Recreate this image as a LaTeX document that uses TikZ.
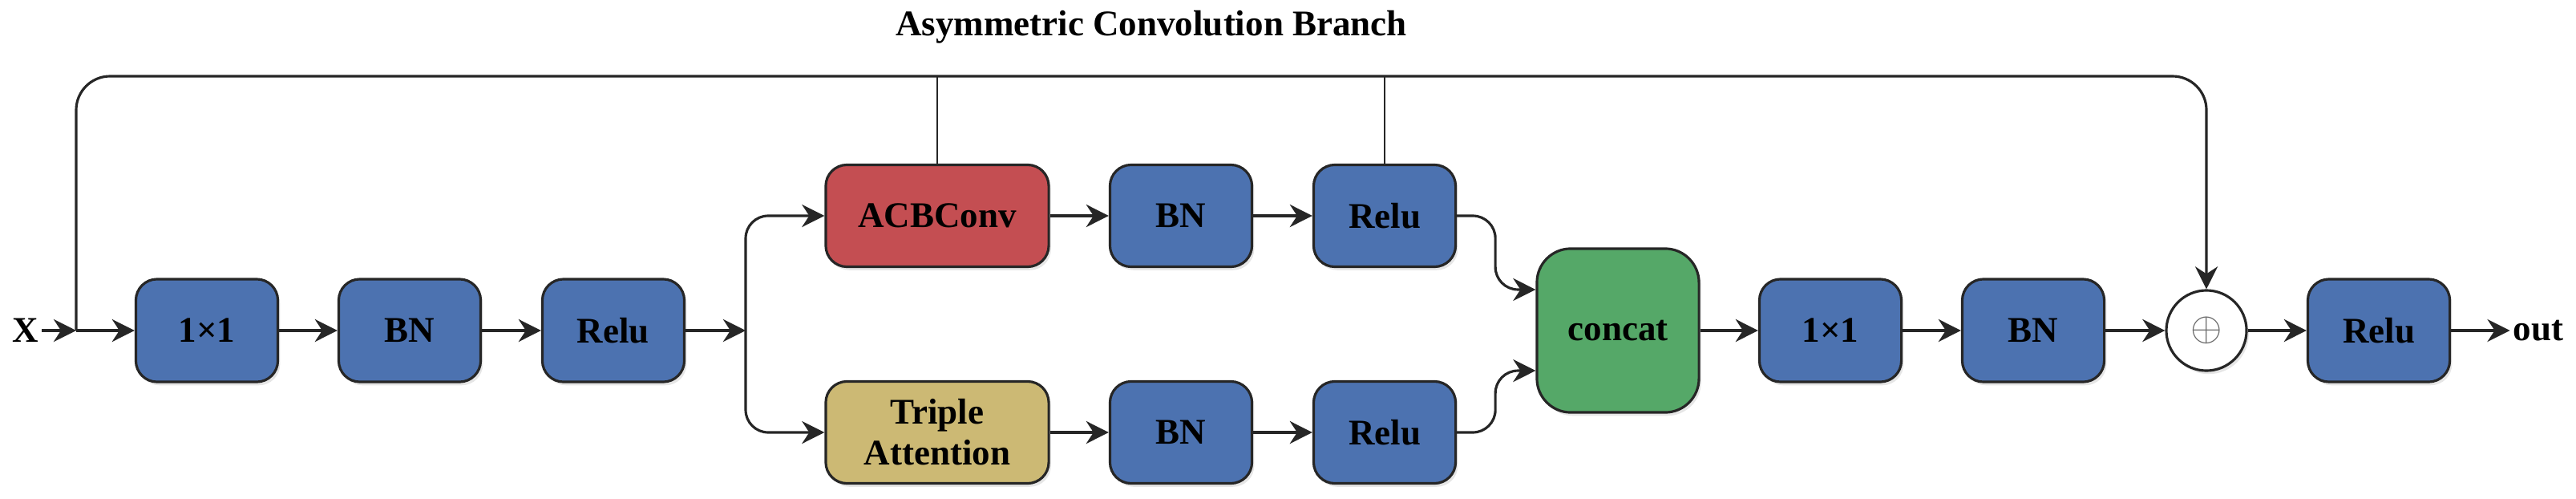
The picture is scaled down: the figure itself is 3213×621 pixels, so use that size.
\documentclass[tikz,border=0pt]{standalone}
\usepackage{fontspec}
\setmainfont{Liberation Serif}
\usepackage{xcolor}
\definecolor{acblue}{HTML}{4C72B0}
\definecolor{acred}{HTML}{C44E52}
\definecolor{actan}{HTML}{CCB974}
\definecolor{acgreen}{HTML}{55A868}
\definecolor{acline}{RGB}{38,38,38}
\usetikzlibrary{arrows.meta,positioning,shadows}

\begin{document}
\begin{tikzpicture}[x=0.01cm,y=-0.01cm,
  blk/.style={draw=acline,line width=0.9pt,rounded corners=7.5pt,
        minimum width=1.77cm,minimum height=1.28cm,align=center,inner sep=1pt,
        font=\fontsize{12.8}{14.5}\selectfont\bfseries,
        drop shadow={shadow xshift=0.8pt,shadow yshift=-1.2pt,opacity=0.2}},
  lbl/.style={font=\fontsize{12.8}{14.5}\selectfont\bfseries,inner sep=1pt},
  arr/.style={-{Stealth[length=8pt,width=8pt]},line width=0.9pt,acline,rounded corners=8pt},
  thinline/.style={line width=0.6pt,acline}]
  \useasboundingbox (0,0) rectangle (3213,621);

  % title and ends
  \node[lbl] (title) at (1436,34) {Asymmetric Convolution Branch};
  \node[lbl] (xin) at (32,412) {X};
  \node[lbl] (out) at (3166,412) {out};
  \coordinate (j) at (95,412);
  \coordinate (tl) at (95,95);
  \coordinate (tr) at (2752,95);
  \coordinate (s) at (930,412);

  % stem
  \node[blk,fill=acblue] (c1) at (258,412) {1×1};
  \node[blk,fill=acblue] (bn1) at (511,412) {BN};
  \node[blk,fill=acblue] (relu1) at (765,412) {Relu};

  % two branches
  \node[blk,fill=acred,minimum width=2.78cm,minimum height=1.27cm] (acb) at (1169,269) {ACBConv};
  \node[blk,fill=acblue,minimum height=1.27cm] (bn2) at (1473,269) {BN};
  \node[blk,fill=acblue,minimum height=1.27cm] (relu2) at (1727,269) {Relu};
  \node[blk,fill=actan,minimum width=2.78cm,minimum height=1.27cm] (ta) at (1169,539) {Triple\\Attention};
  \node[blk,fill=acblue,minimum height=1.27cm] (bn3) at (1473,539) {BN};
  \node[blk,fill=acblue,minimum height=1.27cm] (relu3) at (1727,539) {Relu};

  % merge
  \node[blk,fill=acgreen,minimum width=2.02cm,minimum height=2.04cm,rounded corners=12pt] (concat) at (2018,412) {concat};
  \node[blk,fill=acblue] (c2) at (2283,412) {1×1};
  \node[blk,fill=acblue] (bn4) at (2536,412) {BN};
  \node[draw=acline,line width=0.9pt,circle,fill=white,minimum size=1.0cm,inner sep=0pt,
        drop shadow={shadow xshift=0.8pt,shadow yshift=-1.2pt,opacity=0.2}]
        (add) at (2752,412) {\fontsize{15}{15}\selectfont\color{acline!70}$\oplus$};
  \node[blk,fill=acblue] (relu4) at (2967,412) {Relu};

  \draw[arr] (xin.east) -- (j);
  \draw[arr] (j) -- (c1.west);
  \draw[arr] (c1.east) -- (bn1.west);
  \draw[arr] (bn1.east) -- (relu1.west);
  \draw[arr] (relu1.east) -- (s);
  \draw[arr] (s) |- (acb.west);
  \draw[arr] (s) |- (ta.west);
  \draw[arr] (acb.east) -- (bn2.west);
  \draw[arr] (bn2.east) -- (relu2.west);
  \draw[arr] (ta.east) -- (bn3.west);
  \draw[arr] (bn3.east) -- (relu3.west);
  \draw[arr] (relu2.east) -- ++(48,0) |- ([yshift=0.51cm]concat.west);
  \draw[arr] (relu3.east) -- ++(48,0) |- ([yshift=-0.5cm]concat.west);
  \draw[arr] (concat.east) -- (c2.west);
  \draw[arr] (c2.east) -- (bn4.west);
  \draw[arr] (bn4.east) -- (add.west);
  \draw[arr] (add.east) -- (relu4.west);
  \draw[arr] (relu4.east) -- (relu4.east -| out.west);
  % skip path over the top
  \draw[arr,rounded corners=12pt] (j) -- (tl) -- (tr) -- (add.north);
  \draw[thinline] (acb.north) -- (acb.north |- tl);
  \draw[thinline] (relu2.north) -- (relu2.north |- tl);
\end{tikzpicture}
\end{document}
